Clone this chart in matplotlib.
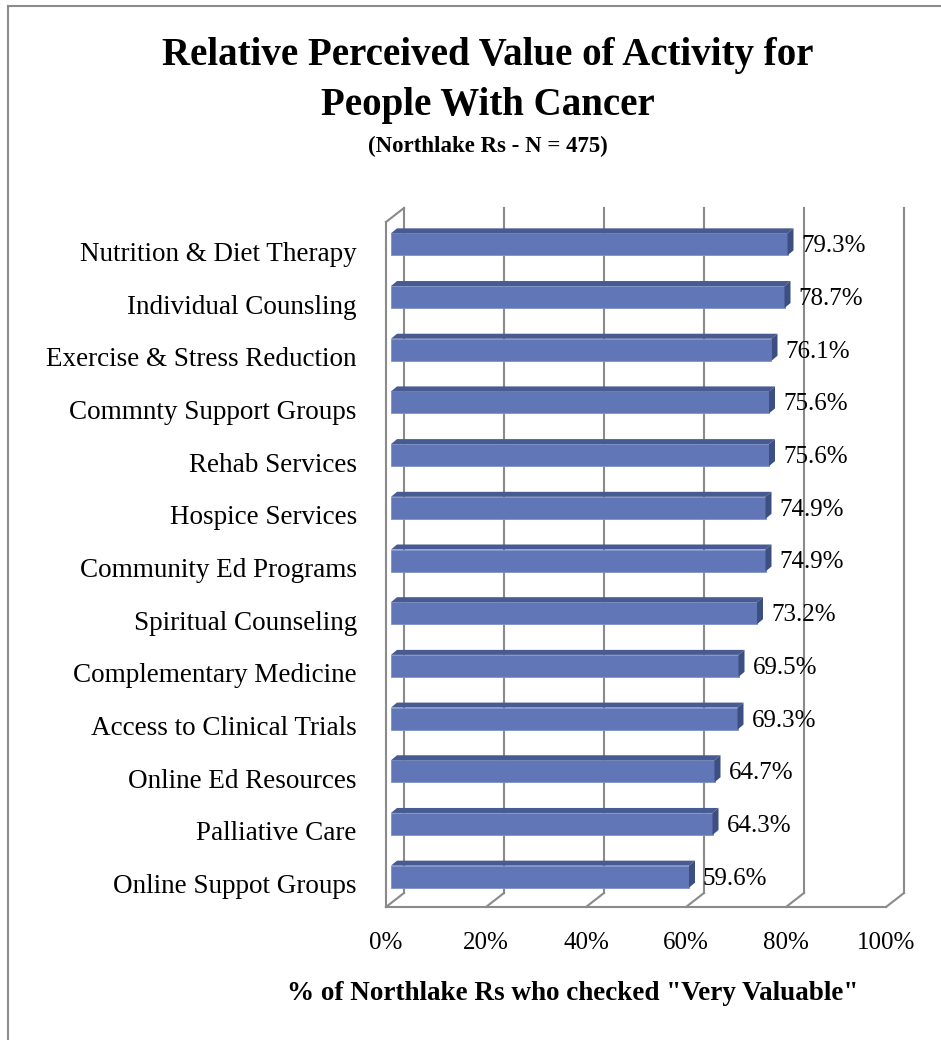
import matplotlib.pyplot as plt
from matplotlib.patches import Polygon
from matplotlib.lines import Line2D
from matplotlib.transforms import ScaledTranslation

categories = [
    "Nutrition & Diet Therapy", "Individual Counsling", "Exercise & Stress Reduction",
    "Commnty Support Groups", "Rehab Services", "Hospice Services",
    "Community Ed Programs", "Spiritual Counseling", "Complementary Medicine",
    "Access to Clinical Trials", "Online Ed Resources", "Palliative Care",
    "Online Suppot Groups",
]
values = [79.3, 78.7, 76.1, 75.6, 75.6, 74.9, 74.9, 73.2, 69.5, 69.3, 64.7, 64.3, 59.6]
x_ticks = [0, 20, 40, 60, 80, 100]

plt.rcParams['font.family'] = ['Liberation Serif', 'DejaVu Serif']

W, H = 941, 1040
fig = plt.figure(figsize=(W / 100, H / 100), dpi=100)

# front plane of the 3d box, in pixels
left, right, top, bottom = 386, 886, 222, 907
ax = fig.add_axes([left / W, 1 - bottom / H, (right - left) / W, (bottom - top) / H])
n = len(categories)
ax.set_xlim(0, 100)
ax.set_ylim(n - 0.5, -0.5)
for s in ax.spines.values():
    s.set_visible(False)

sx = 100 / (right - left)      # data units per pixel
sy = n / (bottom - top)
DX, DY = 18, 14                # wall depth in px
grid_c = '#8a8a8a'
lw = 1.5

y_floor = n - 0.5
y_top = -0.5
for t in x_ticks:
    ax.plot([t + DX * sx] * 2, [y_floor - DY * sy, y_top - DY * sy], color=grid_c, lw=lw, zorder=1, clip_on=False)
    ax.plot([t, t + DX * sx], [y_floor, y_floor - DY * sy], color=grid_c, lw=lw, zorder=1, clip_on=False)
ax.plot([0, 100], [y_floor, y_floor], color=grid_c, lw=lw, zorder=1, clip_on=False)
ax.plot([0, 0], [y_floor, y_top], color=grid_c, lw=lw, zorder=1, clip_on=False)
ax.plot([0, DX * sx], [y_top, y_top - DY * sy], color=grid_c, lw=lw, zorder=1, clip_on=False)

# bars
x0 = 5 * sx
h = 22 * sy
bdx, bdy = 6 * sx, 5 * sy
yc = [i - 4 * sy for i in range(n)]
ax.barh(yc, values, left=x0, height=h, color='#6176B7', edgecolor='#7f92c8', lw=0.6, zorder=3)
for y, v in zip(yc, values):
    yt, yb = y - h / 2, y + h / 2
    xe = x0 + v
    ax.add_patch(Polygon([(x0, yt), (xe, yt), (xe + bdx, yt - bdy), (x0 + bdx, yt - bdy)],
                         closed=True, facecolor='#475A91', edgecolor='none', zorder=3, clip_on=False))
    ax.add_patch(Polygon([(xe, yt), (xe + bdx, yt - bdy), (xe + bdx, yb - bdy), (xe, yb)],
                         closed=True, facecolor='#3D4E80', edgecolor='none', zorder=3, clip_on=False))
    ax.text(xe + 14 * sx, y + 2 * sy, f"{v}%", ha='left', va='center', fontsize=18, zorder=4)

ax.set_xticks(x_ticks, [f"{t}%" for t in x_ticks])
ax.set_yticks(range(n), categories)
ax.tick_params(axis='x', length=0, pad=18, labelsize=18)
ax.tick_params(axis='y', length=0, pad=21, labelsize=19.5)
shift = ScaledTranslation(0, -3 / 100, fig.dpi_scale_trans)
for lbl in ax.get_yticklabels():
    lbl.set_transform(lbl.get_transform() + shift)

fig.text(488 / W, 1 - 55 / H, "Relative Perceived Value of Activity for", ha='center', va='center',
         fontsize=28, fontweight='bold')
fig.text(488 / W, 1 - 105 / H, "People With Cancer", ha='center', va='center',
         fontsize=28, fontweight='bold')
fig.text(488 / W, 1 - 146 / H, "(Northlake Rs - N = 475)", ha='center', va='center',
         fontsize=16.5, fontweight='bold')
fig.text(573 / W, 1 - 993 / H, '% of Northlake Rs who checked "Very Valuable"', ha='center', va='center',
         fontsize=19.5, fontweight='bold')

# chart area border (top and left visible)
fig.add_artist(Line2D([8 / W, 8 / W], [0, 1 - 6 / H], color='#8c8c8c', lw=1.5))
fig.add_artist(Line2D([8 / W, 1], [1 - 6 / H, 1 - 6 / H], color='#8c8c8c', lw=1.5))

fig.savefig('out.png', dpi=100)
